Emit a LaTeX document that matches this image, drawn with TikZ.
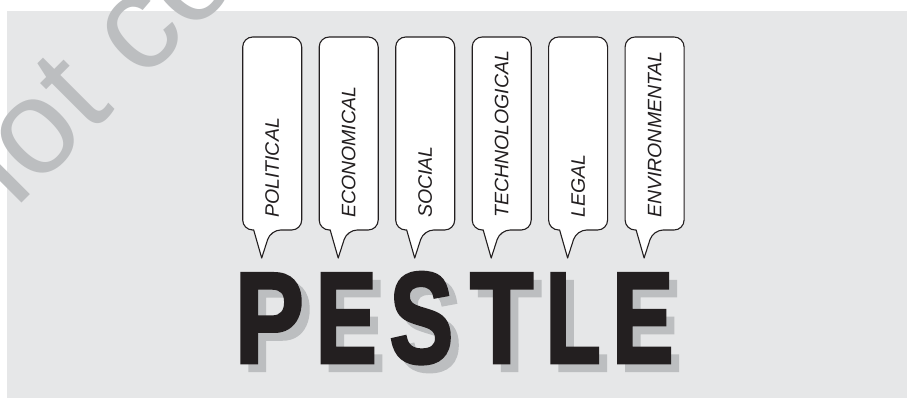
\documentclass[tikz,border=0pt]{standalone}
\usepackage{fontspec}
\usepackage{graphicx}
\setmainfont{Liberation Sans}
\newfontfamily\bigfont[FakeBold=2.5]{Liberation Sans Bold}
\definecolor{bgc}{HTML}{E6E7E8}
\definecolor{shade}{HTML}{BCBEC0}
\definecolor{inkc}{HTML}{231F20}
\tikzset{
  bubble/.style={draw=inkc, fill=white, line width=1.1pt, line join=round},
  lbl/.style={inner sep=0pt, text=inkc, font=\fontsize{19.5}{20}\selectfont\itshape, rotate=90, anchor=west},
  bigletter/.style={inner sep=0pt, anchor=base, text=inkc, font=\fontsize{129.5}{130}\selectfont\bigfont},
  bigshadow/.style={inner sep=0pt, anchor=base, text=shade, font=\fontsize{129.5}{130}\selectfont\bigfont},
  wmark/.style={inner sep=0pt, text=shade, font=\fontsize{135}{136}\selectfont, rotate=45, anchor=base west}
}
\begin{document}
\begin{tikzpicture}[x=1pt,y=-1pt]
\useasboundingbox (0,0) rectangle (907,398);
\fill[bgc] (7,11) rectangle (907,398);
% watermark
\begin{scope}
\clip (0,0) rectangle (907,398);
\node[wmark] (wm) at (-17,242) {not copy};
\end{scope}
% bubbles
\foreach \L/\t [count=\i] in {242.7/POLITICAL, 319.2/ECONOMICAL, 395.7/SOCIAL, 472.2/TECHNOLOGICAL, 548.6/LEGAL, 625.1/ENVIRONMENTAL}{
  \draw[bubble] (\L+19,258) -- (\L+11,230) [rounded corners=10pt] -- (\L,230) -- (\L,37) -- (\L+59,37) -- (\L+59,230) -- (\L+28,230) [sharp corners] -- cycle;
  \node[lbl] (b\i) at (\L+29.5,218) {\t};
}
% PESTLE shadow
\foreach \x/\s/\c [count=\i] in {269.4/0.80/P, 346.2/0.71/E, 421.4/0.74/S, 501.7/0.80/T, 573.2/0.70/L, 642.8/0.71/E}{
  \node[bigshadow] (s\i) at (\x+8,370.5) {\scalebox{\s}[1]{\c}};
}
\foreach \x/\s/\c [count=\i] in {269.4/0.80/P, 346.2/0.71/E, 421.4/0.74/S, 501.7/0.80/T, 573.2/0.70/L, 642.8/0.71/E}{
  \node[bigletter] (p\i) at (\x,362.7) {\scalebox{\s}[1]{\c}};
}
\end{tikzpicture}
\end{document}
